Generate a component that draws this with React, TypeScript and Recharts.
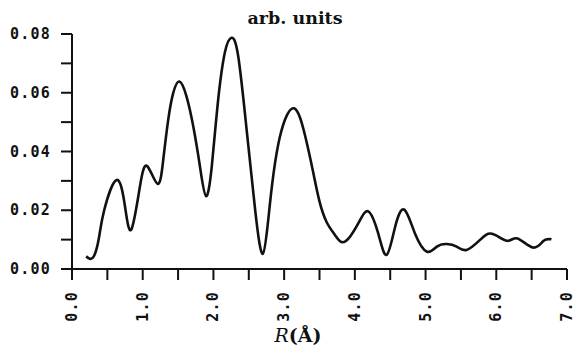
import { LineChart, Line, XAxis, YAxis, Label } from 'recharts'

// R in Angstrom and the transform amplitude
const rValues = [
  0.2, 0.3, 0.38, 0.455, 0.63, 0.75, 0.84, 0.96, 1.065, 1.21, 1.29, 1.36, 1.43, 1.518, 1.62, 1.716,
  1.81, 1.895, 1.976, 2.06, 2.16, 2.255, 2.35, 2.47, 2.59, 2.7, 2.8, 2.94, 3.14, 3.3, 3.41, 3.5,
  3.6, 3.72, 3.86, 4.05, 4.19, 4.33, 4.45, 4.57, 4.7, 4.85, 5.02, 5.16, 5.3, 5.44, 5.58, 5.77,
  5.94, 6.15, 6.3, 6.52, 6.67, 6.78,
]
const amplitude = [
  0.0043, 0.004, 0.0105, 0.02, 0.0303, 0.0212, 0.0135, 0.028, 0.035, 0.029, 0.0371, 0.0507, 0.0598, 0.0638, 0.0587, 0.0484,
  0.0348, 0.0248, 0.0348, 0.056, 0.0735, 0.0787, 0.0725, 0.0473, 0.0201, 0.0052, 0.0224, 0.045, 0.0547, 0.045, 0.033, 0.023,
  0.016, 0.0115, 0.0093, 0.0156, 0.0196, 0.0121, 0.0048, 0.0144, 0.0202, 0.0121, 0.0059, 0.0076, 0.0085, 0.0076, 0.0065, 0.0099,
  0.012, 0.0096, 0.0104, 0.0073, 0.0096, 0.0101,
]

const xTicks = [0, 0.5, 1, 1.5, 2, 2.5, 3, 3.5, 4, 4.5, 5, 5.5, 6, 6.5, 7]
const yTicks = [0, 0.01, 0.02, 0.03, 0.04, 0.05, 0.06, 0.07, 0.08]
const title = 'arb. units'

const data = rValues.map((r, i) => ({ r, amp: amplitude[i] }))

const tickFont = {
  fontFamily: '"DejaVu Sans Mono", monospace',
  fontWeight: 'bold' as const,
  fontSize: 15,
  letterSpacing: 1.2,
  fill: '#111',
}

const XTick = ({ x, y, payload }: any) => {
  const v = payload.value
  if (!Number.isInteger(v)) return <g />
  return (
    <text
      x={x}
      y={y}
      transform={`rotate(-90 ${x} ${y})`}
      textAnchor="end"
      dominantBaseline="central"
      {...tickFont}
    >
      {v.toFixed(1)}
    </text>
  )
}

const YTick = ({ x, y, payload }: any) => {
  const v = payload.value
  if (Math.round(v * 100) % 2 !== 0) return <g />
  return (
    <text x={x} y={y} textAnchor="end" dominantBaseline="central" {...tickFont}>
      {v.toFixed(2)}
    </text>
  )
}

const XLabel = ({ viewBox }: any) => {
  const cx = viewBox.x + 226
  return (
    <text x={cx} y={342} textAnchor="middle" fontFamily='"DejaVu Serif", serif' fontSize={19} fill="#111">
      <tspan fontStyle="italic">R</tspan>
      <tspan fontWeight="bold">(Å)</tspan>
    </text>
  )
}

export default function App() {
  return (
    <div style={{ position: 'absolute', left: 0, top: 0, width: 575, height: 348, background: '#fff' }}>
      <div
        style={{
          position: 'absolute',
          left: 0,
          width: 590,
          top: 8,
          textAlign: 'center',
          fontFamily: '"DejaVu Serif", serif',
          fontWeight: 'bold',
          fontSize: 17.5,
          color: '#111',
        }}
      >
        {title}
      </div>
      <LineChart width={575} height={348} data={data} margin={{ top: 34, right: 8, left: 0, bottom: 0 }}>
        <XAxis
          dataKey="r"
          type="number"
          domain={[0, 7]}
          ticks={xTicks}
          interval={0}
          height={79}
          tickSize={11}
          tickMargin={11}
          tick={<XTick />}
          axisLine={{ stroke: '#111', strokeWidth: 2 }}
          tickLine={{ stroke: '#111', strokeWidth: 2 }}
        >
          <Label content={<XLabel />} />
        </XAxis>
        <YAxis
          type="number"
          domain={[0, 0.08]}
          ticks={yTicks}
          interval={0}
          width={72}
          tickSize={11}
          tickMargin={10}
          tick={<YTick />}
          axisLine={{ stroke: '#111', strokeWidth: 2 }}
          tickLine={{ stroke: '#111', strokeWidth: 2 }}
        />
        <Line
          type="natural"
          dataKey="amp"
          stroke="#111"
          strokeWidth={2.6}
          dot={false}
          isAnimationActive={false}
        />
      </LineChart>
    </div>
  )
}
